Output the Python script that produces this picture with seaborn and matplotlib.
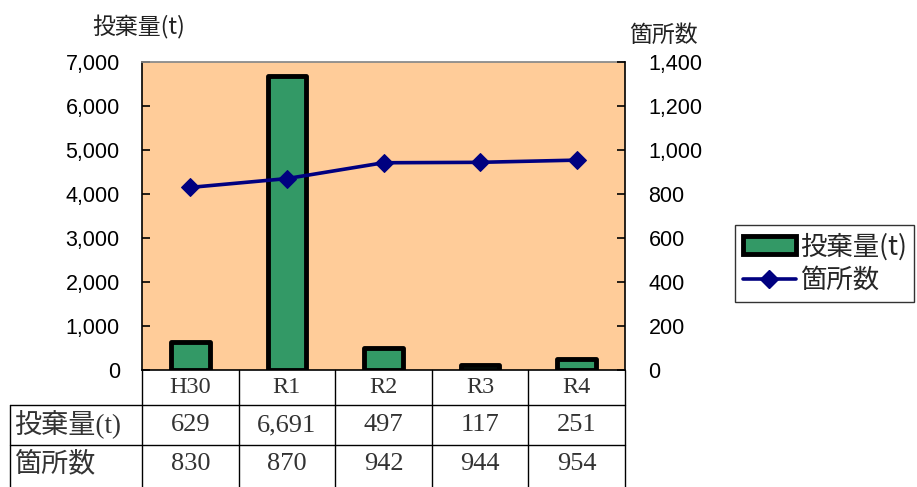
import numpy as np
import pandas as pd
import matplotlib
matplotlib.use('Agg')
import matplotlib.pyplot as plt
import matplotlib.transforms as mtransforms
from matplotlib.lines import Line2D
from matplotlib.patches import Patch
from matplotlib.ticker import FuncFormatter
import seaborn as sns

# data
years = ['H30', 'R1', 'R2', 'R3', 'R4']
dumped_t = [629, 6691, 497, 117, 251]
sites = [830, 870, 942, 944, 954]
amount_label = '投棄量(t)'
sites_label = '箇所数'

GREEN = '#339966'
NAVY = '#000080'
PEACH = '#FFCC99'

sns.set_theme(style='white')
plt.rcParams['font.family'] = ['Liberation Sans', 'Noto Sans CJK JP']
jp = ['Noto Sans CJK JP']
serif = ['Liberation Serif', 'Noto Sans CJK JP']

df = pd.DataFrame({'year': years, 'amount': dumped_t, 'sites': sites})
df['pos'] = np.arange(len(df))

fig = plt.figure(figsize=(9.17, 4.87), dpi=100)
ax = fig.add_axes([142 / 917, 1 - 370 / 487, 483 / 917, 308 / 487])
ax.set_facecolor(PEACH)

sns.barplot(data=df, x='year', y='amount', color=GREEN, saturation=1,
            width=0.40, edgecolor='black', linewidth=3.5, ax=ax)
for bar in ax.patches:
    bar.set_joinstyle('round')

ax2 = ax.twinx()
sns.lineplot(data=df, x='pos', y='sites', color=NAVY, lw=2.6, marker='D',
             markersize=9, markeredgecolor=NAVY, ax=ax2)

ax.set_xlim(-0.5, len(years) - 0.5)
ax.set_ylim(0, 7000)
ax2.set_ylim(0, 1400)
ax.set_yticks(np.arange(0, 7001, 1000))
ax2.set_yticks(np.arange(0, 1401, 200))
fmt = FuncFormatter(lambda v, p: f'{v:,.0f}')
ax.yaxis.set_major_formatter(fmt)
ax2.yaxis.set_major_formatter(fmt)
ax.set_xlabel('')
ax.set_ylabel('')
ax2.set_ylabel('')
ax.tick_params(axis='x', length=0, labelbottom=False)
ax.tick_params(axis='y', direction='in', length=6, width=1.2, colors='black',
               labelsize=15.5, pad=16, left=True)
ax2.tick_params(axis='y', direction='in', length=6, width=1.2, colors='black',
                labelsize=15.5, pad=17, right=True)

for s in ['left', 'bottom']:
    ax.spines[s].set_color('black')
    ax.spines[s].set_linewidth(1.2)
ax.spines['top'].set_color('#888888')
ax.spines['right'].set_visible(False)
for s in ['left', 'top', 'bottom']:
    ax2.spines[s].set_visible(False)
ax2.spines['right'].set_color('black')
ax2.spines['right'].set_linewidth(1.2)

# axis titles
fig.text(139 / 917, 1 - 27 / 487, amount_label, ha='center', va='center',
         fontsize=16.5, family=jp, color='#222222')
fig.text(664 / 917, 1 - 35 / 487, sites_label, ha='center', va='center',
         fontsize=16.5, family=jp, color='#222222')

# data table below the plot (x in data units, y in axes units)
tr = mtransforms.blended_transform_factory(ax.transData, ax.transAxes)
px = 308.0
row_h = -35 / px
row2 = -75 / px
row3 = -117 / px
x_left = -0.5 - 132 * len(years) / 483
x_right = len(years) - 0.5
lkw = dict(color='black', lw=1, transform=tr, clip_on=False)
for b in np.arange(-0.5, len(years), 1.0):
    ax.add_line(Line2D([b, b], [0, row3], **lkw))
ax.add_line(Line2D([x_left, x_left], [row_h, row3], **lkw))
for yy in [row_h, row2]:
    ax.add_line(Line2D([x_left, x_right], [yy, yy], **lkw))

for i, yr in enumerate(years):
    ax.text(i, row_h / 2, yr, ha='center', va='center', fontsize=17.5,
            family=serif, color='#333333', transform=tr, clip_on=False)
    ax.text(i, (row_h + row2) / 2, f'{dumped_t[i]:,}', ha='center', va='center',
            fontsize=19, family=serif, color='#333333', transform=tr, clip_on=False)
    ax.text(i, (row2 + row3) / 2 + 0.005, f'{sites[i]:,}', ha='center', va='center',
            fontsize=19, family=serif, color='#333333', transform=tr, clip_on=False)
lx = -0.5 - 128 * len(years) / 483
ax.text(lx, (row_h + row2) / 2, amount_label, ha='left', va='center', fontsize=19.5,
        family=serif, color='#333333', transform=tr, clip_on=False)
ax.text(lx, (row2 + row3) / 2 + 0.005, sites_label, ha='left', va='center', fontsize=19.5,
        family=serif, color='#333333', transform=tr, clip_on=False)

# legend
handles = [Patch(facecolor=GREEN, edgecolor='black', linewidth=3.5),
           Line2D([0], [0], color=NAVY, lw=2.6, marker='D', markersize=9)]
leg = fig.legend(handles, [amount_label, sites_label], loc='upper left',
                 bbox_to_anchor=(735 / 917, 1 - 225 / 487), frameon=True,
                 fancybox=False, edgecolor='black', prop={'family': jp, 'size': 19},
                 handlelength=2.0, handletextpad=0.15, borderpad=0.3,
                 labelspacing=0.25, borderaxespad=0)
leg.get_frame().set_linewidth(1)

fig.savefig('out.png', dpi=100, facecolor='white')
